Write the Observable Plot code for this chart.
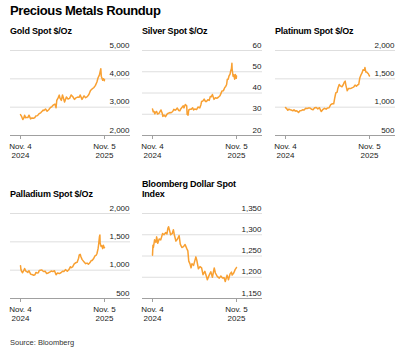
<!DOCTYPE html>
<html><head><meta charset="utf-8">
<script src="https://cdn.jsdelivr.net/npm/d3@7"></script>
<script src="https://cdn.jsdelivr.net/npm/@observablehq/plot@0.6"></script>
<style>
body{margin:0;background:#fff;}
#wrap{position:relative;width:401px;height:355px;font-family:"Liberation Sans",Arial,sans-serif;color:#000;overflow:hidden;background:#fff;}
.title{position:absolute;left:10px;top:4px;font-size:13px;line-height:13px;font-weight:700;letter-spacing:-0.4px;white-space:nowrap;}
.ptitle{position:absolute;font-size:9px;line-height:10px;font-weight:700;letter-spacing:-0.2px;white-space:nowrap;}
.panel{position:absolute;}
.source{position:absolute;left:10px;top:338px;font-size:7.5px;line-height:9px;color:#333;}
</style>
</head><body>
<div id="wrap"></div>
<script>
const chartTitle = "Precious Metals Roundup";
const sourceText = "Source: Bloomberg";
const panelTitles = ["Gold Spot $/Oz", "Silver Spot $/Oz", "Platinum Spot $/Oz", "Palladium Spot $/Oz", "Bloomberg Dollar Spot<br>Index"];

const xTickDates = ["2024-11-04", "2025-11-05"];
const xTickLabels = ["Nov. 4\n2024", "Nov. 5\n2025"];

const goldTicks = [2000, 3000, 4000, 5000];
const silverTicks = [20, 30, 40, 50, 60];
const platinumTicks = [500, 1000, 1500, 2000];
const palladiumTicks = [500, 1000, 1500, 2000];
const dollarTicks = [1150, 1200, 1250, 1300, 1350];

const goldSeries = [
["2024-11-04",2736],["2024-11-08",2685],["2024-11-14",2565],["2024-11-18",2612],["2024-11-22",2712],["2024-11-26",2630],
["2024-12-02",2640],["2024-12-06",2633],["2024-12-11",2718],["2024-12-18",2586],["2024-12-24",2618],["2024-12-30",2606],
["2025-01-06",2636],["2025-01-10",2690],["2025-01-17",2702],["2025-01-24",2770],["2025-01-31",2800],["2025-02-07",2861],
["2025-02-11",2898],["2025-02-14",2882],["2025-02-21",2936],["2025-02-28",2858],["2025-03-07",2910],["2025-03-14",2984],
["2025-03-21",3023],["2025-03-28",3084],["2025-04-03",3110],["2025-04-08",2982],["2025-04-11",3237],["2025-04-17",3327],
["2025-04-22",3425],["2025-04-25",3319],["2025-05-01",3239],["2025-05-06",3430],["2025-05-15",3185],["2025-05-23",3357],
["2025-05-30",3289],["2025-06-06",3310],["2025-06-13",3432],["2025-06-20",3368],["2025-06-27",3274],["2025-07-03",3326],
["2025-07-11",3355],["2025-07-18",3350],["2025-07-22",3432],["2025-07-30",3275],["2025-08-08",3398],["2025-08-15",3336],
["2025-08-22",3371],["2025-08-29",3447],["2025-09-05",3586],["2025-09-12",3643],["2025-09-19",3685],["2025-09-26",3760],
["2025-10-03",3886],["2025-10-08",4040],["2025-10-14",4142],["2025-10-17",4252],["2025-10-20",4356],["2025-10-22",4095],
["2025-10-28",3952],["2025-10-31",4002],["2025-11-04",3932],["2025-11-05",3980]
];

const silverSeries = [
["2024-11-04",32.5],["2024-11-07",31.2],["2024-11-11",31.3],["2024-11-14",30.2],["2024-11-18",31.0],["2024-11-22",31.3],
["2024-11-26",30.1],["2024-12-02",30.4],["2024-12-06",31.1],["2024-12-11",32.0],["2024-12-16",30.6],["2024-12-19",29.0],
["2024-12-24",29.6],["2024-12-31",28.9],["2025-01-06",30.0],["2025-01-10",30.4],["2025-01-15",30.6],["2025-01-20",30.8],
["2025-01-24",30.7],["2025-01-31",31.3],["2025-02-05",32.3],["2025-02-10",31.9],["2025-02-14",32.1],["2025-02-20",32.9],
["2025-02-26",31.8],["2025-03-03",31.6],["2025-03-07",32.5],["2025-03-12",33.2],["2025-03-18",34.0],["2025-03-21",33.0],
["2025-03-27",34.6],["2025-04-02",34.0],["2025-04-04",29.9],["2025-04-08",29.6],["2025-04-11",32.0],["2025-04-17",32.4],
["2025-04-22",32.4],["2025-04-28",33.0],["2025-05-02",32.0],["2025-05-08",32.5],["2025-05-15",32.2],["2025-05-21",33.4],
["2025-05-29",33.0],["2025-06-03",34.5],["2025-06-06",36.0],["2025-06-11",36.2],["2025-06-17",37.1],["2025-06-23",36.0],
["2025-06-27",36.0],["2025-07-03",36.8],["2025-07-09",36.5],["2025-07-14",38.4],["2025-07-18",38.2],["2025-07-23",39.3],
["2025-07-30",37.0],["2025-08-05",37.8],["2025-08-11",37.5],["2025-08-18",38.0],["2025-08-25",38.7],["2025-08-29",39.7],
["2025-09-03",41.0],["2025-09-09",41.1],["2025-09-15",42.6],["2025-09-19",43.1],["2025-09-23",44.0],["2025-09-26",46.5],
["2025-09-30",46.5],["2025-10-03",47.9],["2025-10-08",48.9],["2025-10-10",50.1],["2025-10-14",51.5],["2025-10-16",54.0],
["2025-10-17",51.3],["2025-10-21",47.9],["2025-10-24",48.6],["2025-10-28",46.5],["2025-10-31",48.7],["2025-11-04",46.9],
["2025-11-05",48.0]
];

const platinumSeries = [
["2024-11-04",993],["2024-11-08",980],["2024-11-14",945],["2024-11-19",965],["2024-11-25",955],["2024-12-02",945],
["2024-12-06",935],["2024-12-11",955],["2024-12-17",930],["2024-12-23",935],["2024-12-31",908],["2025-01-06",935],
["2025-01-13",940],["2025-01-17",955],["2025-01-24",950],["2025-01-31",980],["2025-02-06",975],["2025-02-12",985],
["2025-02-19",985],["2025-02-26",962],["2025-03-04",955],["2025-03-11",990],["2025-03-18",995],["2025-03-25",970],
["2025-04-01",990],["2025-04-07",935],["2025-04-09",925],["2025-04-15",955],["2025-04-23",980],["2025-04-30",965],
["2025-05-06",985],["2025-05-13",990],["2025-05-20",1045],["2025-05-27",1060],["2025-06-02",1060],["2025-06-06",1150],
["2025-06-11",1250],["2025-06-17",1265],["2025-06-20",1330],["2025-06-26",1400],["2025-07-01",1375],["2025-07-08",1360],
["2025-07-14",1400],["2025-07-18",1440],["2025-07-22",1460],["2025-07-25",1390],["2025-07-31",1290],["2025-08-06",1330],
["2025-08-12",1330],["2025-08-18",1335],["2025-08-25",1350],["2025-08-29",1360],["2025-09-03",1390],["2025-09-09",1370],
["2025-09-15",1395],["2025-09-19",1400],["2025-09-24",1520],["2025-09-30",1580],["2025-10-03",1600],["2025-10-08",1660],
["2025-10-14",1650],["2025-10-16",1700],["2025-10-20",1620],["2025-10-24",1620],["2025-10-28",1600],["2025-10-31",1590],
["2025-11-04",1555],["2025-11-05",1550]
];

const palladiumSeries = [
["2024-11-04",1080],["2024-11-06",1010],["2024-11-08",985],["2024-11-13",955],["2024-11-18",990],["2024-11-22",1030],
["2024-11-27",985],["2024-12-03",970],["2024-12-06",960],["2024-12-11",990],["2024-12-18",930],["2024-12-23",925],
["2024-12-31",910],["2025-01-06",920],["2025-01-10",960],["2025-01-15",950],["2025-01-21",955],["2025-01-24",990],
["2025-01-29",1000],["2025-02-04",1005],["2025-02-10",985],["2025-02-14",975],["2025-02-20",980],["2025-02-26",940],
["2025-03-04",950],["2025-03-11",965],["2025-03-18",985],["2025-03-25",975],["2025-04-01",990],["2025-04-08",920],
["2025-04-14",950],["2025-04-22",940],["2025-04-29",955],["2025-05-06",980],["2025-05-12",975],["2025-05-19",1010],
["2025-05-27",980],["2025-06-03",1010],["2025-06-09",1060],["2025-06-13",1045],["2025-06-19",1060],["2025-06-26",1110],
["2025-07-02",1130],["2025-07-09",1140],["2025-07-15",1210],["2025-07-18",1270],["2025-07-22",1280],["2025-07-25",1240],
["2025-07-30",1190],["2025-08-05",1160],["2025-08-11",1130],["2025-08-15",1115],["2025-08-21",1125],["2025-08-27",1105],
["2025-09-02",1130],["2025-09-08",1170],["2025-09-12",1170],["2025-09-18",1200],["2025-09-24",1250],["2025-09-29",1260],
["2025-10-03",1290],["2025-10-08",1380],["2025-10-10",1440],["2025-10-14",1590],["2025-10-16",1620],["2025-10-17",1480],
["2025-10-21",1420],["2025-10-24",1430],["2025-10-28",1380],["2025-10-31",1440],["2025-11-04",1395],["2025-11-05",1400]
];

const dollarSeries = [
["2024-11-04",1252],["2024-11-06",1275],["2024-11-08",1270],["2024-11-13",1288],["2024-11-19",1282],["2024-11-22",1295],
["2024-11-27",1280],["2024-12-03",1290],["2024-12-10",1288],["2024-12-18",1303],["2024-12-24",1300],["2024-12-31",1305],
["2025-01-06",1302],["2025-01-10",1315],["2025-01-13",1319],["2025-01-17",1311],["2025-01-22",1300],["2025-01-29",1303],
["2025-02-03",1312],["2025-02-07",1300],["2025-02-14",1285],["2025-02-21",1290],["2025-02-28",1298],["2025-03-05",1278],
["2025-03-12",1270],["2025-03-19",1272],["2025-03-26",1277],["2025-04-02",1268],["2025-04-07",1262],["2025-04-11",1238],
["2025-04-16",1232],["2025-04-21",1222],["2025-04-25",1232],["2025-05-02",1228],["2025-05-12",1248],["2025-05-16",1240],
["2025-05-23",1220],["2025-05-30",1225],["2025-06-06",1222],["2025-06-12",1206],["2025-06-20",1214],["2025-06-27",1202],
["2025-07-01",1194],["2025-07-09",1205],["2025-07-16",1213],["2025-07-23",1200],["2025-07-31",1222],["2025-08-05",1210],
["2025-08-13",1202],["2025-08-22",1198],["2025-08-29",1203],["2025-09-05",1198],["2025-09-12",1199],["2025-09-17",1190],
["2025-09-25",1205],["2025-10-01",1194],["2025-10-08",1208],["2025-10-14",1212],["2025-10-17",1205],["2025-10-24",1210],
["2025-10-30",1218],["2025-11-04",1222],["2025-11-05",1223]
];

const FONT = '"Liberation Sans", Arial, sans-serif';
const LINE_COLOR = "#f8a032";
const xDomain = [new Date("2024-11-04"), new Date("2025-11-05")];
const xTicks = xTickDates.map(d => new Date(d));
const fmtY = d3.format(",");

function panel(series, ticks) {
  const data = series.map(([d, v]) => ({date: new Date(d), value: v}));
  return Plot.plot({
    width: 130, height: 122,
    marginLeft: 10, marginRight: 0, marginTop: 12, marginBottom: 25,
    style: {fontFamily: FONT, fontSize: "8px", background: "transparent", overflow: "visible", color: "#1a1a1a"},
    x: {type: "utc", domain: xDomain, insetLeft: 10, insetRight: 26, axis: null},
    y: {domain: [ticks[0], ticks[ticks.length - 1]], axis: null},
    marks: [
      Plot.ruleY(ticks.slice(1), {stroke: "#dedede", strokeWidth: 1}),
      Plot.ruleY([ticks[0]], {stroke: "#a0a0a0", strokeWidth: 1}),
      Plot.axisX({ticks: xTicks, tickFormat: d => xTickLabels[xTicks.findIndex(t => +t === +d)],
        tickSize: 4, tickPadding: 3, stroke: "#a0a0a0", label: null, lineHeight: 1.15, fontSize: 8, fill: "#1a1a1a"}),
      Plot.text(ticks, {y: d => d, text: d => fmtY(d), frameAnchor: "right", textAnchor: "end",
        lineAnchor: "bottom", dx: -1, dy: -3, fontSize: 8, fill: "#1a1a1a"}),
      Plot.lineY(data, {x: "date", y: "value", stroke: LINE_COLOR, strokeWidth: 1.5})
    ]
  });
}

const wrap = document.getElementById("wrap");
const t = document.createElement("div");
t.className = "title"; t.textContent = chartTitle; wrap.appendChild(t);

const layout = [
  {series: goldSeries, ticks: goldTicks, left: 0, top: 38, tl: 10, tt: 26},
  {series: silverSeries, ticks: silverTicks, left: 132, top: 38, tl: 142, tt: 26},
  {series: platinumSeries, ticks: platinumTicks, left: 265, top: 38, tl: 275, tt: 26},
  {series: palladiumSeries, ticks: palladiumTicks, left: 0, top: 201, tl: 10, tt: 189},
  {series: dollarSeries, ticks: dollarTicks, left: 132, top: 201, tl: 142, tt: 179}
];
layout.forEach((p, i) => {
  const pt = document.createElement("div");
  pt.className = "ptitle"; pt.innerHTML = panelTitles[i];
  pt.style.left = p.tl + "px"; pt.style.top = p.tt + "px";
  wrap.appendChild(pt);
  const div = document.createElement("div");
  div.className = "panel"; div.style.left = p.left + "px"; div.style.top = p.top + "px";
  div.appendChild(panel(p.series, p.ticks));
  wrap.appendChild(div);
});
const s = document.createElement("div");
s.className = "source"; s.textContent = sourceText; wrap.appendChild(s);
</script>
</body></html>
